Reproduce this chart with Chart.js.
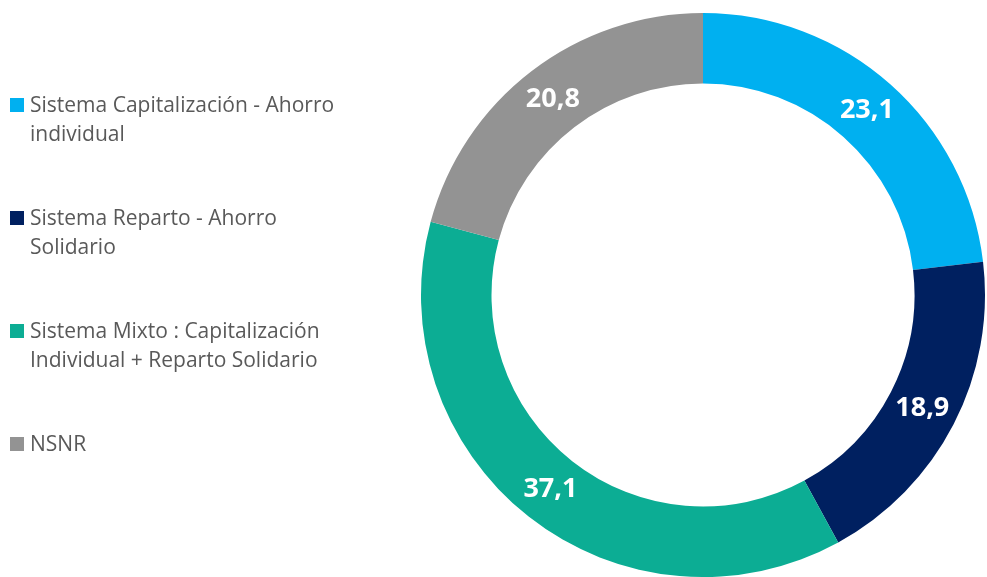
<!DOCTYPE html>
<html>
<head>
<meta charset="utf-8">
<script src="https://cdn.jsdelivr.net/npm/chart.js@4"></script>
<style>
  html, body { margin: 0; padding: 0; background: #ffffff; }
  #wrap { position: relative; width: 987px; height: 577px; overflow: hidden; }
  #chart { position: absolute; left: 0; top: 0; }
  #legend { position: absolute; left: 0; top: 0; font-family: "Open Sans", sans-serif; font-size: 21px; color: #595959; }
  .item { position: absolute; left: 10px; width: 330px; line-height: 29px; }
  .sw { position: absolute; left: 0; top: 8px; width: 14px; height: 14px; }
  .txt { position: absolute; left: 20px; top: 0; width: 312px; }
</style>
</head>
<body>
<div id="wrap">
  <canvas id="chart" width="987" height="577"></canvas>
  <div id="legend"></div>
</div>
<script>
// Distribution of preferences between pension systems (%)
const categories = [
  'Sistema Capitalización - Ahorro individual',
  'Sistema Reparto - Ahorro Solidario',
  'Sistema Mixto : Capitalización Individual + Reparto Solidario',
  'NSNR'
];
const values = [23.1, 18.9, 37.1, 20.8];
const colors = ['#00B0F0', '#002060', '#0CAD94', '#939393'];

// Legend on the left, one entry per category
const legendTops = [90, 203, 316, 429];
const legend = document.getElementById('legend');
categories.forEach((name, i) => {
  const item = document.createElement('div');
  item.className = 'item';
  item.style.top = legendTops[i] + 'px';
  const sw = document.createElement('div');
  sw.className = 'sw';
  sw.style.background = colors[i];
  const txt = document.createElement('div');
  txt.className = 'txt';
  txt.textContent = name;
  item.appendChild(sw);
  item.appendChild(txt);
  legend.appendChild(item);
});

// Values written in the middle of each ring segment
const sliceLabels = {
  id: 'sliceLabels',
  afterDatasetsDraw(chart) {
    const ctx = chart.ctx;
    const meta = chart.getDatasetMeta(0);
    ctx.save();
    ctx.fillStyle = '#ffffff';
    ctx.font = 'bold 27px "Open Sans", sans-serif';
    ctx.textAlign = 'center';
    ctx.textBaseline = 'middle';
    meta.data.forEach((arc, i) => {
      const p = arc.getCenterPoint();
      ctx.fillText(values[i].toFixed(1).replace('.', ','), p.x, p.y);
    });
    ctx.restore();
  }
};

new Chart(document.getElementById('chart'), {
  type: 'doughnut',
  data: {
    labels: categories,
    datasets: [{
      data: values,
      backgroundColor: colors,
      borderWidth: 0
    }]
  },
  options: {
    responsive: false,
    animation: false,
    cutout: '75%',
    layout: { padding: { left: 421, right: 2, top: 13, bottom: 0 } },
    plugins: {
      legend: { display: false },
      tooltip: { enabled: false }
    }
  },
  plugins: [sliceLabels]
});
</script>
</body>
</html>
